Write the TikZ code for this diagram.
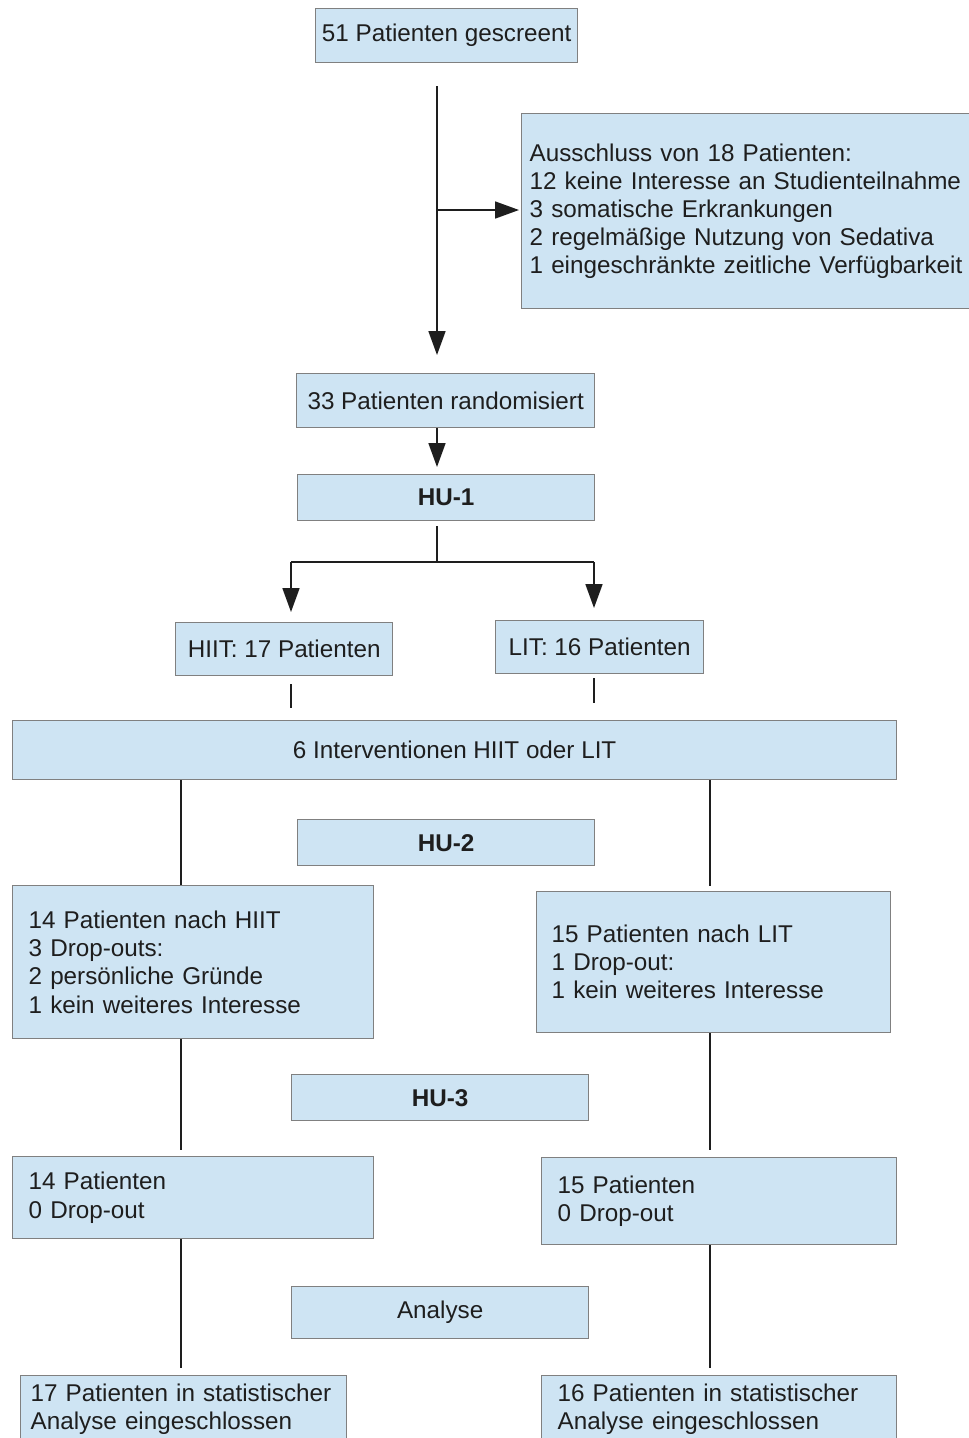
\documentclass[tikz,border=0pt]{standalone}
\usepackage{fontspec}
\setmainfont{Liberation Sans}
\usepackage{xcolor}
\usetikzlibrary{arrows.meta}
\hyphenpenalty=10000
\definecolor{boxfill}{RGB}{206,228,243}
\definecolor{boxline}{RGB}{128,128,128}
\definecolor{inkdark}{RGB}{30,30,30}
\tikzset{
  every node/.append style={font=\fontsize{13.8}{16}\selectfont, text=inkdark},
  box/.style={draw=boxline, fill=boxfill, line width=0.8pt, anchor=north west, inner sep=0pt, align=center},
  lbox/.style={box, align=left, inner ysep=0pt},
  hubox/.style={box, minimum width=5.94cm, minimum height=0.92cm, font=\fontsize{13.8}{16}\selectfont\bfseries},
  line/.style={draw=inkdark, line width=1pt},
  arr/.style={line, -{Triangle[width=0.34cm, length=0.48cm]}}
}

\begin{document}
\begin{tikzpicture}[x=0.02cm, y=-0.02cm]
    \useasboundingbox (0,0) rectangle (968,1438);

    \node[box, minimum width=5.24cm, minimum height=1.08cm] (scr) at (315,8) {51 Patienten gescreent};
    \node[lbox, inner xsep=0.16cm, text width=9.0cm, minimum height=3.9cm] (excl) at (521,113)
        {Ausschluss von 18 Patienten:\\12 keine Interesse an Studienteilnahme\\3 somatische Erkrankungen\\2 regelmäßige Nutzung von Sedativa\\1 eingeschränkte zeitliche Verfügbarkeit};
    \node[box, minimum width=5.96cm, minimum height=1.08cm] (rand) at (296,373) {33 Patienten randomisiert};
    \node[hubox] (hu1) at (297,474) {HU-1};
    \node[box, minimum width=4.34cm, minimum height=1.06cm] (hiit) at (175,622) {HIIT: 17 Patienten};
    \node[box, minimum width=4.16cm, minimum height=1.06cm] (lit) at (495,620) {LIT: 16 Patienten};
    \node[box, minimum width=17.68cm, minimum height=1.18cm] (iv) at (12,720) {6 Interventionen HIIT oder LIT};
    \node[hubox] (hu2) at (297,819) {HU-2};
    \node[lbox, inner xsep=0.32cm, text width=6.58cm, minimum height=3.06cm] (hiitpost) at (12,885)
        {14 Patienten nach HIIT\\3 Drop-outs:\\2 persönliche Gründe\\1 kein weiteres Interesse};
    \node[lbox, inner xsep=0.30cm, text width=6.48cm, minimum height=2.82cm] (litpost) at (536,891)
        {15 Patienten nach LIT\\1 Drop-out:\\1 kein weiteres Interesse};
    \node[hubox] (hu3) at (291,1074) {HU-3};
    \node[lbox, inner xsep=0.32cm, text width=6.58cm, minimum height=1.64cm] (hiitfu) at (12,1156)
        {14 Patienten\\0 Drop-out};
    \node[lbox, inner xsep=0.32cm, text width=6.46cm, minimum height=1.74cm] (litfu) at (541,1157)
        {15 Patienten\\0 Drop-out};
    \node[box, minimum width=5.94cm, minimum height=1.04cm] (ana) at (291,1286) {Analyse};
    \node[lbox, inner xsep=0.2cm, text width=6.12cm, minimum height=1.34cm] (hiitana) at (20,1375)
        {17 Patienten in statistischer\\Analyse eingeschlossen};
    \node[lbox, inner xsep=0.32cm, text width=6.46cm, minimum height=1.34cm] (litana) at (541,1375)
        {16 Patienten in statistischer\\Analyse eingeschlossen};

    \coordinate (trunk) at (437,210);
    \coordinate (fork) at (437,562);
    \coordinate (forkL) at (291,562);
    \coordinate (forkR) at (594,562);
    \coordinate (colL) at (181,0);
    \coordinate (colR) at (710,0);

    \draw[arr, shorten <=0.46cm, shorten >=0.36cm] (scr.south -| trunk) -- (rand.north -| trunk);
    \draw[arr, shorten >=0.04cm] (trunk) -- (excl.west |- trunk);
    \draw[arr, shorten >=0.14cm] (rand.south -| trunk) -- (hu1.north -| trunk);
    \draw[line, shorten <=0.1cm] (hu1.south -| fork) -- (fork);
    \draw[line] (forkL) -- (forkR);
    \draw[arr, shorten >=0.2cm] (forkL) -- (hiit.north -| forkL);
    \draw[arr, shorten >=0.24cm] (forkR) -- (lit.north -| forkR);
    \draw[line, shorten <=0.16cm, shorten >=0.24cm] (hiit.south -| forkL) -- (iv.north -| forkL);
    \draw[line, shorten <=0.08cm, shorten >=0.34cm] (lit.south -| forkR) -- (iv.north -| forkR);

    \draw[line] (iv.south -| colL) -- (hiitpost.north -| colL);
    \draw[line, shorten >=0.1cm] (iv.south -| colR) -- (litpost.north -| colR);
    \draw[line, shorten >=0.12cm] (hiitpost.south -| colL) -- (hiitfu.north -| colL);
    \draw[line, shorten >=0.14cm] (litpost.south -| colR) -- (litfu.north -| colR);
    \draw[line, shorten >=0.14cm] (hiitfu.south -| colL) -- (hiitana.north -| colL);
    \draw[line, shorten >=0.14cm] (litfu.south -| colR) -- (litana.north -| colR);
\end{tikzpicture}
\end{document}
